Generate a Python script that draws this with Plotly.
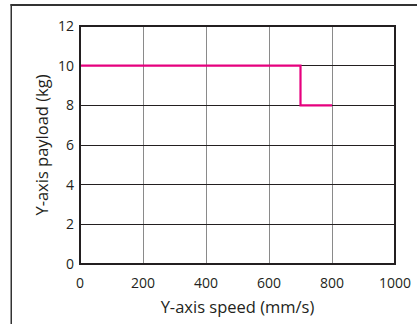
import plotly.graph_objects as go

speed = [0, 700, 700, 800]
payload = [10, 10, 8, 8]
x_ticks = [0, 200, 400, 600, 800, 1000]
y_ticks = [0, 2, 4, 6, 8, 10, 12]

W, H = 417, 324
L, R, T, B = 80, 22, 26, 60
pw, ph = W - L - R, H - T - B

fig = go.Figure()
fig.add_trace(go.Scatter(x=speed, y=payload, mode="lines",
                         line=dict(color="#E6007E", width=2.2), hoverinfo="skip"))

font = dict(family="Open Sans, Lato, sans-serif", color="#231f20")
fig.update_layout(
    width=W, height=H, margin=dict(l=L, r=R, t=T, b=B, autoexpand=False),
    paper_bgcolor="white", plot_bgcolor="white", showlegend=False,
    font=dict(size=12, **font),
    xaxis=dict(range=[0, 1000], tickvals=x_ticks, showgrid=True, gridcolor="#8a8a8a",
               gridwidth=1, zeroline=False, showline=False, ticks="", automargin=False,
               ticklabelstandoff=9,
               tickfont=dict(size=14), title=dict(text="Y-axis speed (mm/s)", font=dict(size=16.5), standoff=10)),
    yaxis=dict(range=[0, 12], tickvals=y_ticks, showgrid=True, gridcolor="#231f20",
               gridwidth=1, zeroline=False, showline=False, ticks="", automargin=False,
               ticklabelstandoff=5,
               tickfont=dict(size=14), title=dict(text="Y-axis payload (kg)", font=dict(size=16.5), standoff=5)),
)


def px(x):
    return (x - L) / pw


def py(y):
    return (H - B - y) / ph


shapes = [
    dict(type="rect", xref="paper", yref="paper", x0=0, y0=0, x1=1, y1=1,
         line=dict(color="#231f20", width=2), layer="above"),
    # outer border: top edge and left edge as filled strips
    dict(type="rect", xref="paper", yref="paper", x0=px(10.5), x1=px(W), y0=py(6), y1=py(4),
         fillcolor="#333333", line=dict(width=0)),
    dict(type="rect", xref="paper", yref="paper", x0=px(10.5), x1=px(12), y0=py(H), y1=py(4),
         fillcolor="#333333", line=dict(width=0)),
]
fig.update_layout(shapes=shapes)
fig.write_html("out.html", config={"displayModeBar": False, "staticPlot": True},
               post_script="document.body.style.margin='0';document.body.style.overflow='hidden';")
